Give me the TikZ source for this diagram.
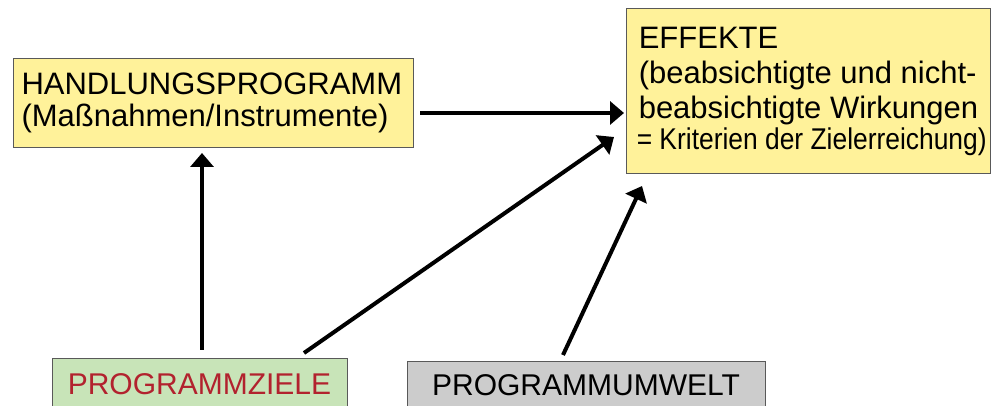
\documentclass[tikz,border=0pt]{standalone}
\usepackage{fontspec}
\setmainfont{Liberation Sans}
\newfontfamily\schmal[FakeStretch=0.88]{Liberation Sans}
\usepackage{tikz}
\usetikzlibrary{arrows.meta}
\definecolor{gelb}{HTML}{FFF29A}
\definecolor{gruen}{HTML}{C8E4B8}
\definecolor{grau}{HTML}{CCCCCC}
\definecolor{rot}{HTML}{B2222E}

\begin{document}
\begin{tikzpicture}[x=0.5pt, y=-0.5pt,
  kasten/.style={draw=black!65, line width=0.5pt, inner ysep=0pt},
  pfeil/.style={line width=2pt, -{Triangle[width=11.5pt,length=7pt]}}]
  \useasboundingbox (0,0) rectangle (992,406);

  \node[kasten, fill=gelb, anchor=north west, text width=192pt, inner xsep=4pt,
    minimum height=44.5pt, align=left, font=\fontsize{15.5}{16}\selectfont]
    (HP) at (13,58) {HANDLUNGSPROGRAMM\\(Maßnahmen/Instrumente)};
  \node[kasten, fill=gelb, anchor=north west, inner xsep=6pt, minimum width=182pt,
    minimum height=82.5pt, align=left, font=\fontsize{15.5}{17.5}\selectfont]
    (EF) at (626,8) {EFFEKTE\\(beabsichtigte und nicht-\\beabsichtigte Wirkungen\\[-2pt]
    \makebox[169pt][l]{\schmal\fontsize{15}{17}\selectfont\hspace*{-1pt}= Kriterien der Zielerreichung)}};

  \node[kasten, fill=gruen, text=rot, minimum width=147.5pt, minimum height=25.5pt,
    font=\fontsize{15}{17}\selectfont] (PZ) at (199.5,384.5) {PROGRAMMZIELE};
  \node[kasten, fill=grau, minimum width=179pt, minimum height=23.5pt,
    font=\fontsize{15}{17}\selectfont] (PU) at (586,385.5) {PROGRAMMUMWELT};

  % Pfeilenden
  \coordinate (z1) at (202,350);
  \coordinate (h1) at (202,153);
  \coordinate (z2) at (304,353);
  \coordinate (e2) at (614,137);
  \coordinate (u1) at (563,355);
  \coordinate (e3) at (642,186);
  \coordinate (h2) at (420,113);
  \coordinate (e1) at (624,113);

  \draw[pfeil] (z1) to (h1);
  \draw[pfeil] (h2) to (e1);
  \draw[pfeil] (z2) to (e2);
  \draw[pfeil] (u1) to (e3);
\end{tikzpicture}
\end{document}
